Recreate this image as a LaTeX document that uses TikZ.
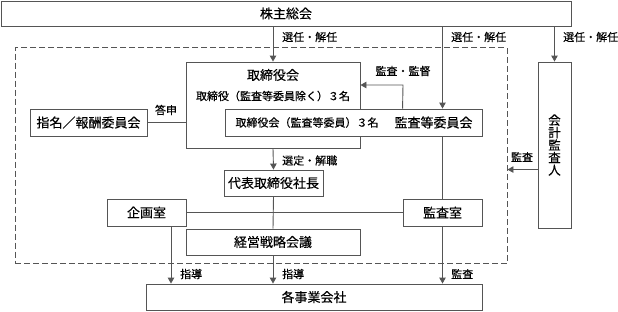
\documentclass[tikz,border=0pt]{standalone}
\usepackage{fontspec}
\setmainfont{Noto Sans CJK JP}[FakeBold=0.35]
\usetikzlibrary{arrows.meta}
\definecolor{ln}{HTML}{555555}
\tikzset{
  box/.style={draw=ln, line width=0.9pt, inner sep=0pt, font=\fontsize{13}{15}\selectfont},
  lbl/.style={inner sep=0pt, font=\fontsize{11}{13}\selectfont},
  conn/.style={draw=ln, line width=0.9pt},
  arr/.style={conn, -{Triangle[length=6pt,width=6.5pt]}},
}
\begin{document}
\begin{tikzpicture}[x=1pt,y=-1pt]
\useasboundingbox (0,0) rectangle (618,311);
% boxes
\node[box, minimum width=570, minimum height=25] (top) at (286,13.5) {株主総会};
\node[draw=ln, line width=0.9pt, dashed, dash pattern=on 6pt off 3pt, minimum width=492, minimum height=216, inner sep=0pt] (frame) at (261,155.5) {};
\node[box, minimum width=174, minimum height=86] (board) at (273,105) {};
\node[box, anchor=center, font=\fontsize{13}{15}\selectfont, draw=none] (boardt) at (273,75) {取締役会};
\node[lbl, font=\fontsize{11}{13}\selectfont] (boards) at (273,96) {取締役（監査等委員除く）３名};
\node[box, fill=white, minimum width=257, minimum height=27] (inner) at (353.5,122.5) {};
\node[lbl] (innert) at (307,122.5) {取締役会（監査等委員）３名};
\node[box, draw=none] (acc) at (433.5,122.5) {監査等委員会};
\node[box, minimum width=117, minimum height=27] (nom) at (88.5,122.5) {指名／報酬委員会};
\node[box, minimum width=33, minimum height=166, align=center, font=\fontsize{12.5}{12.5}\selectfont] (aud) at (554.5,145) {会\\計\\監\\査\\人};
\node[box, minimum width=99, minimum height=26] (ceo) at (273.5,183) {代表取締役社長};
\node[box, minimum width=79, minimum height=27] (plan) at (146.5,212.5) {企画室};
\node[box, minimum width=79, minimum height=27] (ar) at (442.5,212.5) {監査室};
\node[box, minimum width=174, minimum height=26] (strat) at (273,242) {経営戦略会議};
\node[box, minimum width=336, minimum height=26] (subs) at (314,297) {各事業会社};
% connectors
\draw[arr] (board.north |- top.south) -- (board.north);
\draw[arr] (ar.north |- top.south) -- (ar.north |- inner.north);
\draw[arr] (aud.north |- top.south) -- (aud.north);
\coordinate (mk) at (403,85);
\draw[arr] (ar.north west |- inner.north) -- (mk) -- (board.east |- mk);
\draw[arr] (aud.west |- ceo.north) -- (frame.east |- ceo.north);
\draw[arr] (board.south) -- (ceo.north);
\draw[conn] (ceo.south) -- (strat.north);
\draw[conn] (plan.east) -- (ar.west);
\draw[conn] (ar.north |- inner.south) -- (ar.north);
\draw[conn] (nom.east) -- (board.west |- nom.east);
\coordinate (pl) at ([xshift=24.5]plan.south);
\draw[arr] (pl) -- (pl |- subs.north);
\draw[arr] (strat.south) -- (strat.south |- subs.north);
\draw[arr] (ar.south) -- (ar.south |- subs.north);
% labels
\node[lbl, anchor=west] (l1) at (282,37) {選任・解任};
\node[lbl, anchor=west] (l2) at (451,37) {選任・解任};
\node[lbl, anchor=west] (l3) at (563,37) {選任・解任};
\node[lbl] (l4) at (166,110) {答申};
\node[lbl] (l5) at (403,71) {監査・監督};
\node[lbl] (l6) at (522,157) {監査};
\node[lbl, anchor=west] (l7) at (282,160.5) {選定・解職};
\node[lbl, anchor=west] (l8) at (180,274) {指導};
\node[lbl, anchor=west] (l9) at (282,274) {指導};
\node[lbl, anchor=west] (l10) at (451,274) {監査};
\end{tikzpicture}
\end{document}
